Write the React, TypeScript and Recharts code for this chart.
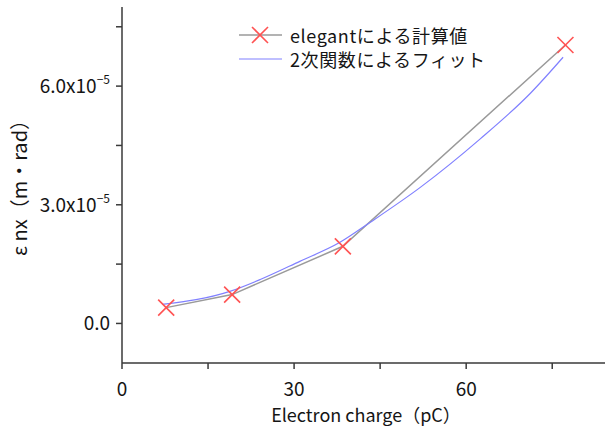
import { ComposedChart, Line, Scatter, XAxis, YAxis } from "recharts";

const FONT = '"Noto Sans CJK JP", "Noto Sans", sans-serif';
const AXIS = "#3a3a3a";
const TEXT = "#151515";
const CALC_LINE = "#9a9a9a";
const MARK = "#ff5252";
const FIT_LINE = "#8080ff";

// elegant simulation points
const CHARGE = [7.7, 19.2, 38.5, 77.3];
const EMITTANCE = [4.0e-6, 7.3e-6, 19.5e-6, 70.4e-6];

// quadratic fit curve
const FIT_CHARGE = [7.0, 18.8, 24.1, 31.0, 38.0, 43.3, 52.0, 62.4, 71.2, 76.9];
const FIT_EMITTANCE = [4.8e-6, 8.1e-6, 11.1e-6, 15.7e-6, 20.5e-6, 25.6e-6, 34.4e-6, 46.6e-6, 58.2e-6, 67.3e-6];

const X_TICKS = [0, 15, 30, 45, 60, 75];
const Y_TICKS = [0, 1.5e-5, 3e-5, 4.5e-5, 6e-5, 7.5e-5];
const Y_LABELS: Record<string, [string, string]> = {
  "0": ["0.0", ""],
  "0.00003": ["3.0x10", "−5"],
  "0.00006": ["6.0x10", "−5"],
};

const LEGEND = ["elegantによる計算値", "2次関数によるフィット"];

const calcData = CHARGE.map((x, i) => ({ x, y: EMITTANCE[i] }));
const fitData = FIT_CHARGE.map((x, i) => ({ x, y: FIT_EMITTANCE[i] }));

function Cross({ cx, cy, r = 8 }: { cx: number; cy: number; r?: number }) {
  return (
    <g stroke={MARK} strokeWidth={1.6}>
      <line x1={cx - r} y1={cy - r} x2={cx + r} y2={cy + r} />
      <line x1={cx - r} y1={cy + r} x2={cx + r} y2={cy - r} />
    </g>
  );
}

function XTick(props: any) {
  const { x, y, payload } = props;
  const major = payload.value % 30 === 0;
  return (
    <g>
      <line x1={x} x2={x} y1={y} y2={y + 6} stroke={AXIS} strokeWidth={1.5} />
      {major && (
        <text x={x} y={y + 24} textAnchor="middle" dominantBaseline="central"
          fontSize={19} fill={TEXT} fontFamily={FONT}>
          {payload.value}
        </text>
      )}
    </g>
  );
}

function YTick(props: any) {
  const { x, y, payload } = props;
  const lab = Y_LABELS[String(payload.value)];
  return (
    <g>
      <line x1={x - 6} x2={x} y1={y} y2={y} stroke={AXIS} strokeWidth={1.5} />
      {lab && (
        <text x={x - 12} y={y + 7} textAnchor="end" fontSize={19} fill={TEXT} fontFamily={FONT}>
          {lab[0]}
          {lab[1] && (
            <tspan dy={-9} fontSize={12}>{lab[1]}</tspan>
          )}
        </text>
      )}
    </g>
  );
}

function XTitle() {
  return (
    <text x={366} y={414} textAnchor="middle" dominantBaseline="central"
      fontSize={18} fill={TEXT} fontFamily={FONT}>
      Electron charge（pC）
    </text>
  );
}

function YTitle(props: any) {
  const { viewBox } = props;
  const cx = viewBox.x + 18;
  const cy = viewBox.y + viewBox.height / 2 - 2;
  return (
    <text x={cx} y={cy} transform={`rotate(-90 ${cx} ${cy})`} textAnchor="middle"
      dominantBaseline="central" fontSize={20} fill={TEXT} fontFamily={FONT}>
      ε nx（m・rad）
    </text>
  );
}

export default function App() {
  return (
    <div style={{ position: "absolute", left: 0, top: 0, width: 605, height: 429, background: "#fff" }}>
      <ComposedChart width={605} height={429} margin={{ top: 7, right: 0, bottom: 0, left: 0 }}>
        <XAxis
          dataKey="x"
          type="number"
          domain={[0, 84.2]}
          ticks={X_TICKS}
          tickSize={0}
          tickMargin={0}
          tick={<XTick />}
          height={66}
          axisLine={{ stroke: AXIS, strokeWidth: 1.5 }}
          label={<XTitle />}
        />
        <YAxis
          dataKey="y"
          type="number"
          domain={[-1e-5, 8e-5]}
          ticks={Y_TICKS}
          tickSize={0}
          tickMargin={0}
          tick={<YTick />}
          width={122}
          axisLine={{ stroke: AXIS, strokeWidth: 1.5 }}
          label={<YTitle />}
        />
        <Line data={calcData} dataKey="y" type="linear" stroke={CALC_LINE} strokeWidth={1.5}
          dot={false} activeDot={false} isAnimationActive={false} />
        <Line data={fitData} dataKey="y" type="monotone" stroke={FIT_LINE} strokeWidth={1.2}
          dot={false} activeDot={false} isAnimationActive={false} />
        <Scatter data={calcData} dataKey="y" isAnimationActive={false}
          shape={(p: any) => <Cross cx={p.cx} cy={p.cy} />} />
      </ComposedChart>
      <svg width={605} height={429} style={{ position: "absolute", left: 0, top: 0, pointerEvents: "none" }}>
        <line x1={239} x2={282} y1={35} y2={35} stroke={CALC_LINE} strokeWidth={1.5} />
        <Cross cx={260} cy={35} />
        <line x1={239} x2={282} y1={59} y2={59} stroke={FIT_LINE} strokeWidth={1.2} />
        {LEGEND.map((t, i) => (
          <text key={t} x={290} y={35 + i * 24} dominantBaseline="central" fontSize={18}
            letterSpacing={0.6} fill={TEXT} fontFamily={FONT}>
            {t}
          </text>
        ))}
      </svg>
    </div>
  );
}
